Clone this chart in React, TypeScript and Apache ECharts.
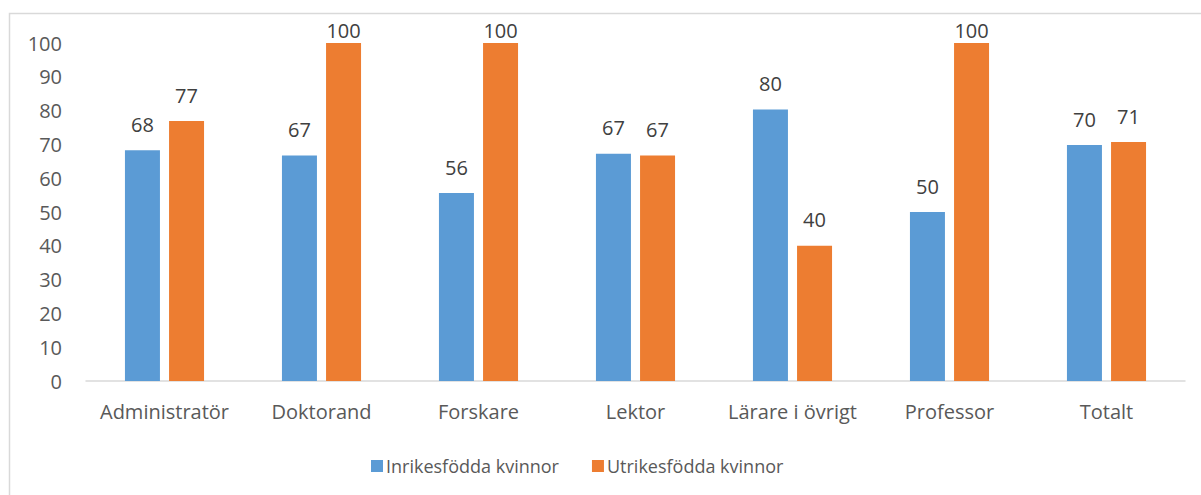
import React, { useEffect, useRef } from "react";
import * as echarts from "echarts";

const categories = ["Administratör", "Doktorand", "Forskare", "Lektor", "Lärare i övrigt", "Professor", "Totalt"];
const inrikes = [68.3, 66.7, 55.6, 67.2, 80.3, 50, 69.8];
const utrikes = [76.9, 100, 100, 66.7, 40, 100, 70.7];
const yTicks = [0, 10, 20, 30, 40, 50, 60, 70, 80, 90, 100];

const FONT = "'Open Sans', 'Noto Sans', sans-serif";

export default function App() {
  const ref = useRef<HTMLDivElement>(null);
  useEffect(() => {
    const chart = echarts.init(ref.current!, null, { renderer: "svg" });
    const label = {
      show: true,
      position: "top" as const,
      distance: 16,
      fontFamily: FONT,
      fontSize: 20,
      color: "#404040",
      formatter: (p: any) => String(Math.round(p.value)),
    };
    const clampTop = (arr: number[]) =>
      arr.map((v) => (v >= yTicks[yTicks.length - 1] ? { value: v, label: { distance: 3 } } : v));
    chart.setOption({
      animation: false,
      backgroundColor: "#ffffff",
      graphic: [
        {
          type: "rect",
          shape: { x: 9.5, y: 13.5, width: 1300, height: 600 },
          style: { fill: "none", stroke: "#d9d9d9", lineWidth: 1.5 },
          silent: true,
        },
      ],
      grid: { left: 86, right: 16, top: 43, bottom: 114 },
      legend: {
        bottom: 15,
        left: 366,
        itemWidth: 12,
        itemHeight: 12,
        itemGap: 33,
        icon: "rect",
        textStyle: { fontFamily: FONT, fontSize: 18, color: "#595959", padding: [0, 0, 0, -2] },
        data: ["Inrikesfödda kvinnor", "Utrikesfödda kvinnor"],
      },
      xAxis: {
        type: "category",
        data: categories,
        axisLine: { lineStyle: { color: "#d9d9d9", width: 1.5 } },
        axisTick: { show: false },
        axisLabel: { fontFamily: FONT, fontSize: 20, color: "#595959", margin: 20, interval: 0 },
      },
      yAxis: {
        type: "value",
        min: yTicks[0],
        max: yTicks[yTicks.length - 1],
        interval: 10,
        splitLine: { show: false },
        axisLine: { show: false },
        axisTick: { show: false },
        axisLabel: { fontFamily: FONT, fontSize: 20, color: "#595959", margin: 24 },
      },
      series: [
        {
          name: "Inrikesfödda kvinnor",
          type: "bar",
          data: clampTop(inrikes),
          barWidth: 35,
          barGap: "26%",
          itemStyle: { color: "#5b9bd5" },
          label,
        },
        {
          name: "Utrikesfödda kvinnor",
          type: "bar",
          data: clampTop(utrikes),
          barWidth: 35,
          itemStyle: { color: "#ed7d31" },
          label,
        },
      ],
    });
    return () => chart.dispose();
  }, []);
  return <div ref={ref} style={{ width: 1201, height: 495, position: "absolute", left: 0, top: 0 }} />;
}
